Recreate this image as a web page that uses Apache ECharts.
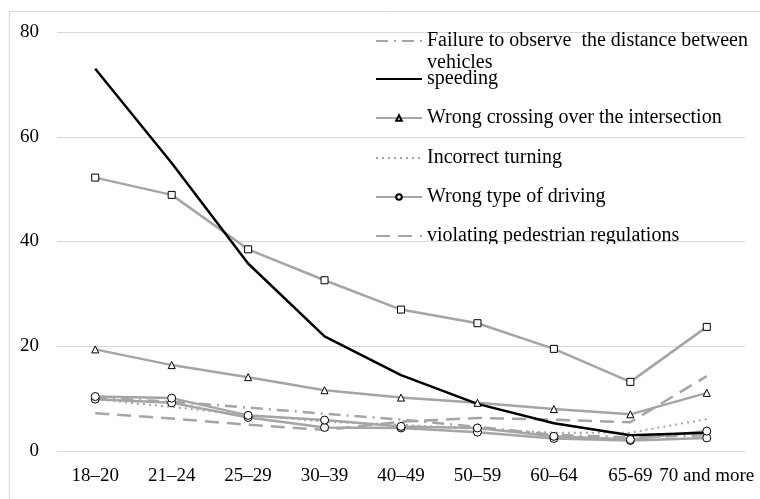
<!DOCTYPE html>
<html>
<head>
<meta charset="utf-8">
<script src="https://cdn.jsdelivr.net/npm/echarts@6/dist/echarts.min.js"></script>
<style>
  html, body { margin: 0; padding: 0; background: #fff; }
  #chart { width: 760px; height: 499px; }
</style>
</head>
<body>
<div id="chart"></div>
<script>
// age groups on the x axis
var ageGroups = ['18–20', '21–24', '25–29', '30–39', '40–49', '50–59', '60–64', '65-69', '70 and more'];

// values (percent)
var distanceFailure     = [10.2, 9.4, 8.3, 7.1, 6.0, 4.6, 3.1, 2.6, 3.0];
var speeding            = [73.0, 55.0, 35.8, 21.9, 14.5, 9.0, 5.3, 3.0, 3.5];
var wrongCrossing       = [19.4, 16.4, 14.1, 11.6, 10.2, 9.2, 8.0, 7.0, 11.1];
var incorrectTurning    = [9.9, 8.4, 6.9, 5.6, 5.0, 4.2, 3.5, 3.5, 6.1];
var wrongDriving        = [10.4, 10.1, 6.8, 5.9, 4.7, 4.4, 2.8, 2.2, 3.8];
var pedestrianViolation = [7.2, 6.2, 5.0, 4.0, 5.6, 6.3, 6.0, 5.5, 14.3];
// two more series whose legend entries are cut off in the source
var squareSeries        = [52.2, 48.9, 38.5, 32.6, 27.0, 24.4, 19.5, 13.2, 23.7];
var circleSeries2       = [9.9, 9.2, 6.4, 4.5, 4.4, 3.6, 2.4, 2.0, 2.5];

var legendNames = [
    'Failure to observe  the distance between vehicles',
    'speeding',
    'Wrong crossing over the intersection',
    'Incorrect turning',
    'Wrong type of driving',
    'violating pedestrian regulations'
];
// which legend rows show a marker in the middle of the line
var legendHasMarker = [false, false, true, false, true, false];

var GRAY = '#A5A5A5';
var FONT = 'Liberation Serif';

function lineSeries(name, data, opts) {
    var s = {
        name: name,
        type: 'line',
        data: data,
        symbol: 'none',
        symbolSize: 7,
        lineStyle: { color: GRAY, width: 2.5 },
        itemStyle: { color: '#fff', borderColor: '#000', borderWidth: 1 },
        emphasis: { disabled: true },
        animation: false
    };
    for (var k in opts) s[k] = opts[k];
    return s;
}

var series = [
    lineSeries('Other', squareSeries, { symbol: 'rect' }),
    lineSeries(legendNames[0], distanceFailure, { lineStyle: { color: GRAY, width: 2.5, type: [12, 6, 2, 6] } }),
    lineSeries(legendNames[5], pedestrianViolation, { lineStyle: { color: GRAY, width: 2.5, type: [14, 8] } }),
    lineSeries(legendNames[3], incorrectTurning, { lineStyle: { color: GRAY, width: 2, type: [2, 4] } }),
    lineSeries('Other circles', circleSeries2, { symbol: 'circle', symbolSize: 8 }),
    lineSeries(legendNames[4], wrongDriving, { symbol: 'circle', symbolSize: 8 }),
    lineSeries(legendNames[2], wrongCrossing, { symbol: 'triangle' }),
    lineSeries(legendNames[1], speeding, { lineStyle: { color: '#000', width: 2.5 } })
];

// one legend per row so the rows line up like the original (first entry wraps)
var rowCenters = [41, 79, 118, 158, 197, 236];
var legends = legendNames.map(function (n, i) {
    var item = { name: n };
    if (!legendHasMarker[i]) {
        item.itemStyle = { color: 'rgba(0,0,0,0)', borderColor: 'rgba(0,0,0,0)' };
    }
    return {
        data: [item],
        left: 375,
        top: rowCenters[i] - (i === 0 ? 33 : 11),
        padding: 0,
        itemWidth: 46,
        itemHeight: 7,
        selectedMode: false,
        formatter: function (name) {
            // blank first line keeps the first text line level with the symbol
            return name.indexOf(' vehicles') > -1 ? '\n' + name.replace(' vehicles', '\nvehicles') : name;
        },
        textStyle: {
            fontFamily: FONT,
            fontSize: 20,
            color: '#000',
            lineHeight: 22
        }
    };
});

var chart = echarts.init(document.getElementById('chart'));
chart.setOption({
    backgroundColor: '#fff',
    animation: false,
    grid: { left: 57, right: 15, top: 32, bottom: 48 },
    legend: legends,
    xAxis: {
        type: 'category',
        data: ageGroups,
        boundaryGap: true,
        axisLine: { show: false },
        axisTick: { show: false },
        axisLabel: { interval: 0, margin: 16, fontFamily: FONT, fontSize: 19, color: '#000' }
    },
    yAxis: {
        type: 'value',
        min: 0,
        max: 80,
        interval: 20,
        axisLine: { show: false },
        axisTick: { show: false },
        axisLabel: { margin: 18, fontFamily: FONT, fontSize: 19, color: '#000' },
        splitLine: { lineStyle: { color: '#D9D9D9', width: 1 } }
    },
    graphic: [
        {
            type: 'rect',
            shape: { x: 9.5, y: 11.5, width: 900, height: 700 },
            style: { fill: 'none', stroke: '#D9D9D9', lineWidth: 1 },
            silent: true
        },
        {
            // legend box bottom edge hides the 40 gridline and clips the last entry
            type: 'rect',
            z: 100,
            shape: { x: 363, y: 244, width: 385, height: 10 },
            style: { fill: '#fff' },
            silent: true
        }
    ],
    series: series
});
</script>
</body>
</html>
